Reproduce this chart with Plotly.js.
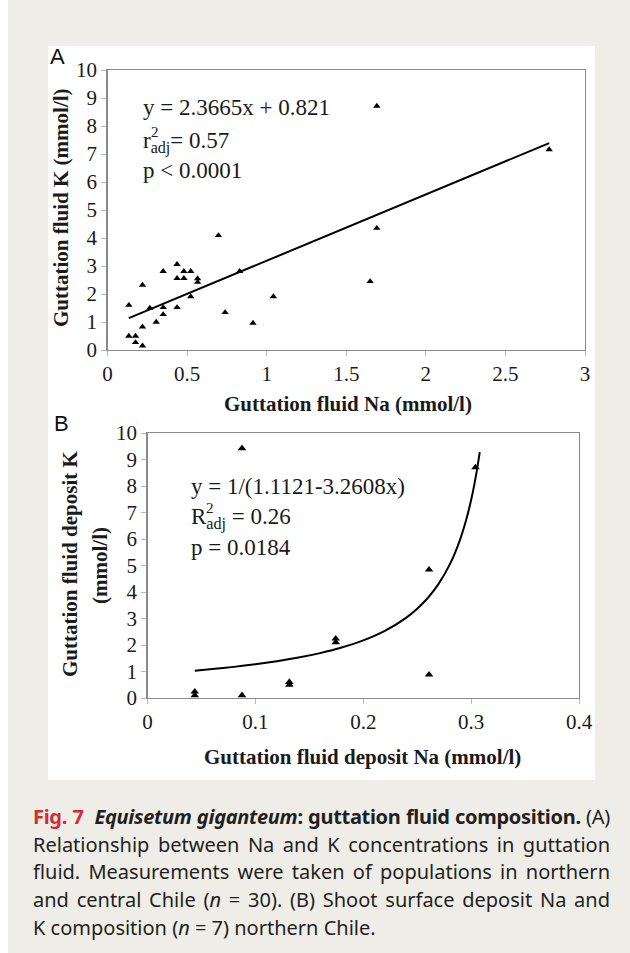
<!DOCTYPE html>
<html>
<head>
<meta charset="utf-8">
<script src="https://cdn.plot.ly/plotly-3.0.1.min.js"></script>
<style>
  html, body { margin: 0; padding: 0; }
  body { width: 630px; height: 953px; background: #ffffff; position: relative; overflow: hidden; }
  #bg { position: absolute; left: 8px; top: 0; width: 622px; height: 953px; background: #eeede7; }
  #panel { position: absolute; left: 48px; top: 46px; width: 547px; height: 734px; background: #ffffff; }
  #chart { position: absolute; left: 0; top: 0; width: 630px; height: 953px; }
  #caption { position: absolute; left: 33px; top: 803px; width: 577px; font-family: "Noto Sans", sans-serif; font-size: 20px; line-height: 27.7px; color: #231f20; }
  #caption .ln { text-align: justify; text-align-last: justify; white-space: nowrap; }
  #caption .last { text-align: left; text-align-last: left; }
  #caption .red { color: #d52b31; font-weight: bold; }
  #caption .fit { display: inline-block; }
</style>
</head>
<body>
<div id="bg"></div>
<div id="panel"></div>
<div id="chart"></div>
<div id="caption">
  <div class="ln"><span class="red">Fig. 7</span>&nbsp; <b><i>Equisetum giganteum</i>: guttation fluid composition.</b> (A)</div>
  <div class="ln">Relationship between Na and K concentrations in guttation</div>
  <div class="ln">fluid. Measurements were taken of populations in northern</div>
  <div class="ln">and central Chile (<i>n</i> = 30). (B) Shoot surface deposit Na and</div>
  <div class="ln last">K composition (<i>n</i> = 7) northern Chile.</div>
</div>
<script>
// ---- Panel A data: guttation fluid Na vs K (mmol/l) ----
const naA = [0.134, 0.134, 0.176, 0.176, 0.22, 0.22, 0.22, 0.266, 0.306, 0.35, 0.35, 0.35,
             0.437, 0.437, 0.437, 0.48, 0.48, 0.523, 0.523, 0.566, 0.566, 0.697, 0.739, 0.83,
             0.914, 1.042, 1.65, 1.692, 1.692, 2.775];
const kA  = [1.60, 0.50, 0.50, 0.27, 0.15, 0.83, 2.32, 1.50, 1.00, 2.81, 1.52, 1.27,
             3.06, 2.56, 1.52, 2.81, 2.56, 2.81, 1.91, 2.55, 2.42, 4.09, 1.34, 2.81,
             0.96, 1.91, 2.45, 4.35, 8.71, 7.16];
// Fit stated on the chart: y = 2.3665x + 0.821, drawn over the data range
const fitA = { slope: 2.3665, intercept: 0.821 };
const fitAx = [0.134, 2.775];

// ---- Panel B data: guttation fluid deposit Na vs K (mmol/l) ----
const naB = [0.0438, 0.0438, 0.0876, 0.0876, 0.1315, 0.1315, 0.1745, 0.1745, 0.261, 0.261, 0.304];
const kB  = [0.10, 0.24, 9.42, 0.10, 0.50, 0.60, 2.10, 2.24, 4.84, 0.88, 8.70];
// Fit stated on the chart: y = 1/(1.1121 - 3.2608x)
const fitB = { a: 1.1121, b: 3.2608 };
const fitBx = [0.0438, 0.06, 0.08, 0.10, 0.12, 0.14, 0.16, 0.18, 0.20, 0.22, 0.24, 0.25,
               0.26, 0.27, 0.28, 0.285, 0.29, 0.295, 0.30, 0.303, 0.306, 0.308];

// tick labels
const tickA_x = [0, 0.5, 1, 1.5, 2, 2.5, 3];
const tickA_xt = ['0', '0.5', '1', '1.5', '2', '2.5', '3'];
const tickB_x = [0, 0.1, 0.2, 0.3, 0.4];
const tickB_xt = ['0', '0.1', '0.2', '0.3', '0.4'];
const tickY = [0,1,2,3,4,5,6,7,8,9,10];

const W = 630, H = 953;
const px = x => x / W;
const py = y => 1 - y / H;

const serif = 'Liberation Serif';
const ink = '#1a1a1a';

const fitAy = fitAx.map(x => fitA.slope * x + fitA.intercept);
const fitBy = fitBx.map(x => 1 / (fitB.a - fitB.b * x));

const traces = [
  { x: naA, y: kA, xaxis: 'x', yaxis: 'y', type: 'scatter', mode: 'markers',
    marker: { symbol: 'triangle-up', size: 6.5, color: '#000' }, cliponaxis: false, hoverinfo: 'skip' },
  { x: fitAx, y: fitAy, xaxis: 'x', yaxis: 'y', type: 'scatter', mode: 'lines',
    line: { color: '#000', width: 2 }, hoverinfo: 'skip' },
  { x: naB, y: kB, xaxis: 'x2', yaxis: 'y2', type: 'scatter', mode: 'markers',
    marker: { symbol: 'triangle-up', size: 7.5, color: '#000' }, cliponaxis: false, hoverinfo: 'skip' },
  { x: fitBx, y: fitBy, xaxis: 'x2', yaxis: 'y2', type: 'scatter', mode: 'lines',
    line: { color: '#000', width: 2, shape: 'spline', smoothing: 0.6 }, hoverinfo: 'skip' }
];

function axis(extra) {
  return Object.assign({
    showgrid: false, zeroline: false, showline: true, mirror: true,
    linecolor: '#8a8a8a', linewidth: 1.2,
    ticks: 'outside', ticklen: 5, tickcolor: '#b8b8b8', tickwidth: 1,
    tickfont: { family: serif, size: 21, color: ink },
    fixedrange: true
  }, extra);
}

function ann(text, x, y, size, extra) {
  return Object.assign({ text: text, x: px(x), y: py(y), xref: 'paper', yref: 'paper',
    xanchor: 'center', yanchor: 'middle', showarrow: false,
    font: { family: serif, size: size, color: ink } }, extra || {});
}

const sans = { family: 'Liberation Sans', size: 22, color: '#111' };

const layout = {
  width: W, height: H,
  font: { family: serif, size: 21, color: ink },
  margin: { l: 0, r: 0, t: 0, b: 0, pad: 0 },
  paper_bgcolor: 'rgba(0,0,0,0)',
  plot_bgcolor: '#ffffff',
  showlegend: false,
  xaxis: axis({ domain: [px(107.5), px(585)], range: [0, 3],
    tickmode: 'array', tickvals: tickA_x, ticktext: tickA_xt, anchor: 'y' }),
  yaxis: axis({ domain: [py(350), py(70)], range: [0, 10],
    tickmode: 'array', tickvals: tickY, anchor: 'x' }),
  xaxis2: axis({ domain: [px(147.5), px(579)], range: [0, 0.4],
    tickmode: 'array', tickvals: tickB_x, ticktext: tickB_xt, anchor: 'y2' }),
  yaxis2: axis({ domain: [py(698), py(433)], range: [0, 10],
    tickmode: 'array', tickvals: tickY, anchor: 'x2' }),
  annotations: [
    // panel letters
    ann('A', 57, 56, 22, { font: sans }),
    ann('B', 61, 424, 22, { font: sans }),
    // axis titles A
    ann('<b>Guttation fluid Na (mmol/l)</b>', 348, 404, 21),
    ann('<b>Guttation fluid K (mmol/l)</b>', 61, 208, 21, { textangle: -90 }),
    // axis titles B
    ann('<b>Guttation fluid deposit Na (mmol/l)</b>', 363, 757, 21),
    ann('<b>Guttation fluid deposit K</b>', 70, 564, 21, { textangle: -90 }),
    ann('<b>(mmol/l)</b>', 100, 566, 21, { textangle: -90 }),
    // equations A
    ann('y = 2.3665x + 0.821', 141, 108, 23, { xanchor: 'left' }),
    ann('r<sub>adj</sub>= 0.57', 141, 142, 23, { xanchor: 'left' }),
    ann('2', 149, 132, 15, { xanchor: 'left' }),
    ann('p < 0.0001', 141, 171, 23, { xanchor: 'left' }),
    // equations B
    ann('y = 1/(1.1121-3.2608x)', 189, 487, 23, { xanchor: 'left' }),
    ann('R<sub>adj</sub> = 0.26', 189, 518, 23, { xanchor: 'left' }),
    ann('2', 204, 508, 15, { xanchor: 'left' }),
    ann('p = 0.0184', 189, 547, 23, { xanchor: 'left' })
  ]
};

Plotly.newPlot('chart', traces, layout, { staticPlot: true, displayModeBar: false });

// keep each caption line on one row at the caption width
function fitCaption() {
  const lines = document.querySelectorAll('#caption .ln');
  const maxW = 577;
  lines.forEach(function (ln) {
    const span = document.createElement('span');
    span.className = 'fit';
    while (ln.firstChild) span.appendChild(ln.firstChild);
    ln.appendChild(span);
    const w = span.getBoundingClientRect().width;
    const n = span.textContent.length;
    if (w > maxW - 4) {
      ln.style.letterSpacing = ((maxW - 4 - w) / n) + 'px';
    }
    while (span.firstChild) ln.insertBefore(span.firstChild, span);
    ln.removeChild(span);
  });
}
if (document.fonts && document.fonts.ready) { document.fonts.ready.then(fitCaption); } else { fitCaption(); }
</script>
</body>
</html>
